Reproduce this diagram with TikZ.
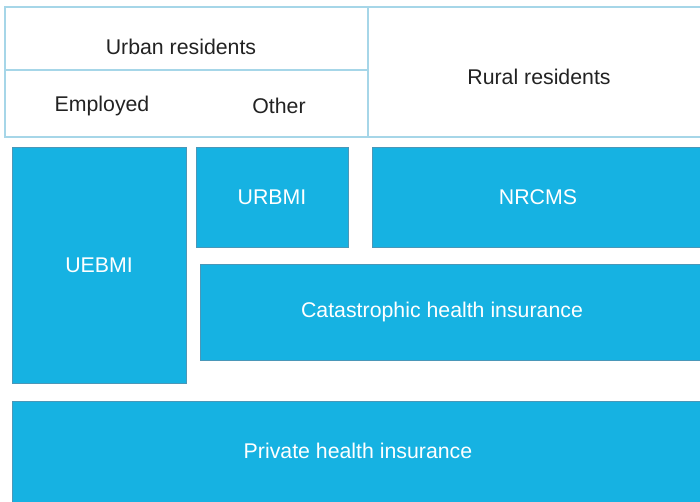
\documentclass[tikz,border=0pt]{standalone}
\usepackage{fontspec}
\setmainfont{Liberation Sans}
\definecolor{boxfill}{HTML}{16B2E2}
\definecolor{boxline}{HTML}{4A97B8}
\definecolor{gridline}{HTML}{A6D6E8}
\definecolor{labeltext}{HTML}{222222}
\begin{document}
\begin{tikzpicture}[x=1pt,y=-1pt,
  scheme/.style={draw=boxline,line width=0.8pt,fill=boxfill,text=white,
    inner sep=0pt,outer sep=0pt,anchor=north west,
    font=\fontsize{21.3}{25}\selectfont},
  head/.style={text=labeltext,font=\fontsize{21.3}{25}\selectfont,inner sep=0pt},
  grid/.style={draw=gridline,line width=1.6pt}]
\useasboundingbox (0,0) rectangle (700,501);
\clip (0,0) rectangle (700,501);
% population header
\coordinate (hnw) at (5,7);
\coordinate (hse) at (706,137);
\draw[grid] (hnw) rectangle (hse);
\coordinate (vtop) at (368,7);
\coordinate (vbot) at (368,137);
\draw[grid] (vtop) -- (vbot);
\coordinate (hl) at (5,70);
\coordinate (hr) at (368,70);
\draw[grid] (hl) -- (hr);
\node[head] (urban) at (181,47) {Urban residents};
\node[head] (employed) at (102,106) {Employed};
\node[head] (other) at (279,106) {Other};
\node[head] (rural) at (539,77) {Rural residents};
% insurance schemes
\node[scheme,minimum width=174,minimum height=236] (uebmi) at (12,147) {UEBMI};
\node[scheme,minimum width=152,minimum height=100] (urbmi) at (196,147) {URBMI};
\node[scheme,minimum width=332,minimum height=100] (nrcms) at (372,147) {NRCMS};
\node[scheme,minimum width=504,minimum height=96] (chi) at (200,264) {Catastrophic health insurance\kern20pt};
\node[scheme,minimum width=692,minimum height=110] (phi) at (12,401) {\raisebox{11pt}{Private health insurance}};
\end{tikzpicture}
\end{document}
